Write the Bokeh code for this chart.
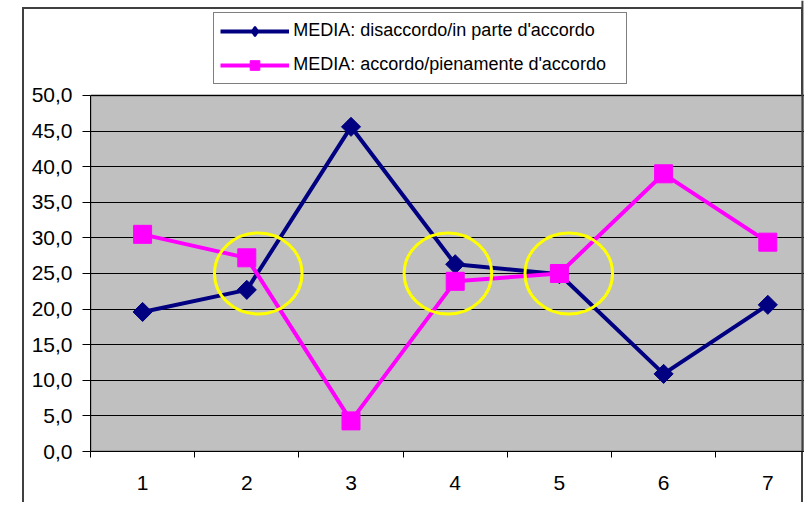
import numpy as np
from bokeh.plotting import figure
from bokeh.models import Range1d, FixedTicker, Legend, LegendItem, Span
from bokeh.embed import file_html
from bokeh.resources import INLINE

# ---- data ----
categories = [1, 2, 3, 4, 5, 6, 7]
disaccordo = [19.6, 22.7, 45.6, 26.3, 24.9, 10.9, 20.6]
accordo = [30.5, 27.2, 4.3, 23.9, 25.0, 39.0, 29.4]
series_names = ["MEDIA: disaccordo/in parte d'accordo",
                "MEDIA: accordo/pienamente d'accordo"]
y_ticks = [0, 5, 10, 15, 20, 25, 30, 35, 40, 45, 50]
y_tick_labels = ["0,0", "5,0", "10,0", "15,0", "20,0", "25,0",
                 "30,0", "35,0", "40,0", "45,0", "50,0"]
x_boundaries = [0.5, 1.5, 2.5, 3.5, 4.5, 5.5, 6.5, 7.5]
x_tick_labels = ["1", "2", "3", "4", "5", "6", "7"]
highlight_x = [2.11, 3.93, 5.09]
highlight_y = [25.0, 25.0, 25.0]

NAVY = "#000080"
MAGENTA = "#FF00FF"
FRAME = "#404040"
FONT = "Liberation Sans"

X_START, X_END = 0.5, 7.352
Y_MIN, Y_MAX = y_ticks[0], y_ticks[-1]
Y_TOP = 63.34          # room above the plot area for the legend

# outer chart frame (behind the transparent canvas)
frame_css = ", ".join([
    f"linear-gradient({FRAME},{FRAME}) 22px 7px/781px 2px no-repeat",
    f"linear-gradient({FRAME},{FRAME}) 22px 7px/2px 500px no-repeat",
    f"linear-gradient({FRAME},{FRAME}) 801px 7px/2px 500px no-repeat",
    "#ffffff",
])

p = figure(width=804, height=502, output_backend="svg", toolbar_location=None,
           x_range=Range1d(X_START, X_END), y_range=Range1d(Y_MIN, Y_TOP),
           min_border_left=90, min_border_right=0, min_border_top=0,
           min_border_bottom=51,
           background_fill_alpha=0, border_fill_alpha=0,
           outline_line_color=None,
           styles={"background": frame_css})

# grey plot area
p.quad(left=[X_START], right=[X_END], bottom=[Y_MIN], top=[Y_MAX],
       fill_color="#C0C0C0", line_color="#808080", line_width=2, level="image")

# x axis: labels at category centres, tick marks between categories
p.xaxis.ticker = FixedTicker(ticks=categories, minor_ticks=x_boundaries)
p.xaxis.major_label_overrides = {c: l for c, l in zip(categories, x_tick_labels)}
p.xaxis.major_tick_out = 0
p.xaxis.major_tick_in = 0
p.xaxis.major_tick_line_color = None
p.xaxis.minor_tick_out = 6
p.xaxis.minor_tick_in = 0
p.xaxis.minor_tick_line_color = "black"
p.xaxis.axis_line_color = "black"
p.xaxis.major_label_standoff = 18
p.xaxis.major_label_text_font = FONT
p.xaxis.major_label_text_font_size = "21px"
p.xaxis.major_label_text_color = "black"

# y axis
p.yaxis.ticker = FixedTicker(ticks=y_ticks)
p.yaxis.bounds = (Y_MIN, Y_MAX)
p.yaxis.major_label_overrides = {t: l for t, l in zip(y_ticks, y_tick_labels)}
p.yaxis.major_tick_out = 8
p.yaxis.major_tick_in = 0
p.yaxis.minor_tick_line_color = None
p.yaxis.axis_line_color = "black"
p.yaxis.major_label_standoff = 10
p.yaxis.major_label_text_font = FONT
p.yaxis.major_label_text_font_size = "21px"
p.yaxis.major_label_text_color = "black"

p.xgrid.visible = False
p.ygrid.grid_line_color = "black"
p.ygrid.grid_line_width = 1

# series
l1 = p.line(categories, disaccordo, line_color=NAVY, line_width=4)
# diamond symbol (used for the legend key; hidden under the larger markers)
m1_key = p.scatter(categories, disaccordo, marker="diamond", size=12,
                   fill_color=NAVY, line_color=NAVY, line_width=2)
m1 = p.scatter(categories, disaccordo, marker="square", angle=np.pi / 4, size=13.5,
               fill_color=NAVY, line_color=NAVY)
l2 = p.line(categories, accordo, line_color=MAGENTA, line_width=4)
m2 = p.scatter(categories, accordo, marker="square", size=18,
               fill_color=MAGENTA, line_color=MAGENTA)

# highlight circles
p.ellipse(x=highlight_x, y=highlight_y, width=0.84, height=11.4,
          fill_color=None, line_color="#FFFF00", line_width=3)

# right edge of the chart frame crossing the plot area
p.add_layout(Span(location=X_END - 0.02, dimension="height", line_color=FRAME,
                  line_width=2))

legend = Legend(items=[LegendItem(label=series_names[0], renderers=[l1, m1_key]),
                       LegendItem(label=series_names[1], renderers=[l2, m2])],
                location=(123.3, 367.5), orientation="vertical",
                padding=6, margin=0, spacing=10,
                glyph_width=69, glyph_height=24, label_height=24,
                label_width=327, label_standoff=4,
                border_line_color="black", border_line_width=1,
                background_fill_color="white", background_fill_alpha=1,
                label_text_font=FONT, label_text_font_size="18px",
                label_text_color="black")
p.add_layout(legend)

open("out.html", "w").write(file_html(p, INLINE))
